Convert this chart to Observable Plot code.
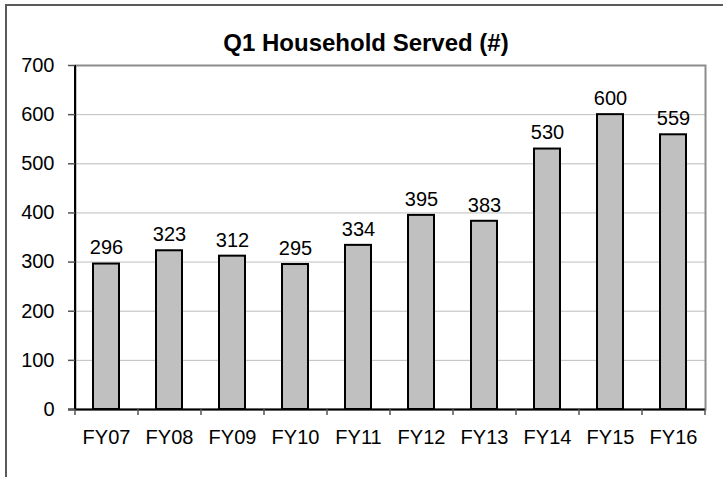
<!DOCTYPE html>
<html>
<head>
<meta charset="utf-8">
<script src="https://cdn.jsdelivr.net/npm/d3@7"></script>
<script src="https://cdn.jsdelivr.net/npm/@observablehq/plot@0.6"></script>
<style>
  html, body { margin: 0; padding: 0; background: #fff; }
  #wrap { position: relative; width: 723px; height: 477px; overflow: hidden; font-family: "Liberation Sans", Arial, sans-serif; }
  #frame { position: absolute; left: 5px; top: 4px; width: 800px; height: 600px; border-top: 2px solid #5a5a5a; border-left: 2px solid #5a5a5a; box-sizing: border-box; }
  #title { position: absolute; left: 0; top: 31px; width: 732px; text-align: center; font-size: 24px; line-height: 24px; font-weight: bold; color: #000; }
  #chart { position: absolute; left: 0; top: 0; }
</style>
</head>
<body>
<div id="wrap">
  <div id="frame"></div>
  <div id="chart"></div>
  <div id="title">Q1 Household Served (#)</div>
</div>
<script>
const categories = ["FY07", "FY08", "FY09", "FY10", "FY11", "FY12", "FY13", "FY14", "FY15", "FY16"];
const values = [296, 323, 312, 295, 334, 395, 383, 530, 600, 559];
const yTicks = [0, 100, 200, 300, 400, 500, 600, 700];
const gridTicks = [100, 200, 300, 400, 500, 600];

const data = categories.map((c, i) => ({category: c, value: values[i]}));

const W = 723, H = 477;
const mL = 75, mR = 18, mT = 65, mB = 68;
const step = (W - mL - mR) / categories.length;
const pi = 0.587;

const plot = Plot.plot({
  width: W,
  height: H,
  marginLeft: mL,
  marginRight: mR,
  marginTop: mT,
  marginBottom: mB,
  style: {fontFamily: "'Liberation Sans', Arial, sans-serif", fontSize: "20px", color: "#000", background: "transparent"},
  x: {domain: categories, paddingInner: pi, paddingOuter: pi / 2},
  y: {domain: [0, 700]},
  marks: [
    Plot.gridY(gridTicks, {stroke: "#bdbdbd", strokeOpacity: 1, strokeWidth: 1}),
    Plot.frame({stroke: "#8c8c8c", strokeWidth: 2}),
    Plot.barY(data, {x: "category", y: "value", fill: "#c0c0c0", stroke: "#000", strokeWidth: 2}),
    Plot.text(data, {x: "category", y: "value", text: d => String(d.value), lineAnchor: "middle", dy: -16, fontSize: 20, fill: "#000"}),
    // left axis line
    Plot.ruleX([categories[0]], {x: d => d, dx: -step / 2, y1: 0, y2: 700, stroke: "#000", strokeWidth: 2}),
    // bottom axis line
    Plot.ruleY([0], {stroke: "#000", strokeWidth: 2, insetLeft: -7}),
    // category boundary ticks
    Plot.ruleX(categories, {x: d => d, dx: -step / 2, y1: 0, y2: 0, insetBottom: -6, stroke: "#555", strokeWidth: 1.5}),
    Plot.ruleX([categories[categories.length - 1]], {x: d => d, dx: step / 2, y1: 0, y2: 0, insetBottom: -6, stroke: "#555", strokeWidth: 1.5}),
    Plot.axisY(yTicks, {tickSize: 7, tickPadding: 14, stroke: "#555", strokeWidth: 1.5, fontSize: 20, label: null, fill: "#000"}),
    Plot.axisX({tickSize: 0, tickPadding: 20, fontSize: 20, label: null, fill: "#000"})
  ]
});
document.getElementById("chart").appendChild(plot);
</script>
</body>
</html>
